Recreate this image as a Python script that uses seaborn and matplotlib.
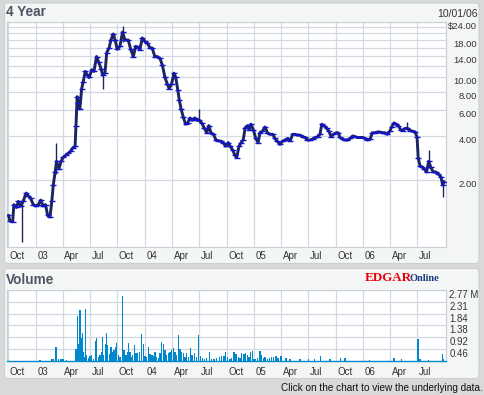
import numpy as np
import pandas as pd
import matplotlib
matplotlib.use("Agg")
import matplotlib.pyplot as plt
import matplotlib.transforms as mtrans
from matplotlib.patches import FancyBboxPatch
import seaborn as sns

# ---------------- data ----------------
start_date = "2002-10-01"
price_day = [0,5,14,18,27,33,41,49,59,66,74,83,92,100,108,116,124,131,139,145,150,156,161,169,176,183,191,200,208,215,223,226,230,234,239,245,250,257,264,270,279,286,295,302,310,315,323,329,337,343,351,357,364,373,382,390,401,409,418,426,435,440,448,457,465,474,481,490,498,507,515,524,532,538,546,554,560,567,572,578,585,593,600,608,615,624,632,639,647,656,664,671,678,686,695,703,712,719,727,736,742,751,758,764,772,779,786,792,800,806,812,820,828,836,842,850,859,867,876,885,892,900,909,918,926,935,943,952,959,968,976,985,993,1001,1010,1019,1027,1035,1043,1049,1056,1066,1073,1080,1088,1097,1104,1110,1119,1127,1135,1144,1153,1160,1169,1177,1185,1194,1202,1211,1218,1227,1235,1244,1253,1261,1268,1277,1283,1291,1298,1305,1313,1320,1328,1336,1345,1354,1361,1368,1372,1378,1386,1392,1400,1407,1414,1422,1431,1439,1448,1454,1459]
price = [1.15,1.05,1.04,1.36,1.30,1.43,1.33,1.43,1.63,1.56,1.50,1.36,1.33,1.36,1.46,1.33,1.36,1.15,1.12,1.43,1.85,2.27,2.68,2.38,2.68,2.85,2.94,3.05,3.14,3.30,3.39,4.70,7.40,6.70,6.10,8.40,9.30,11.0,10.4,10.0,11.3,11.0,13.9,12.7,11.5,10.4,10.7,14.8,15.9,18.0,19.8,18.0,15.6,16.3,20.4,18.0,18.0,15.6,13.9,16.3,16.0,15.5,18.6,17.6,17.1,15.9,15.9,13.9,13.9,13.5,12.2,10.0,9.0,8.4,9.0,10.7,10.0,8.2,7.0,6.1,5.4,4.8,4.9,5.3,5.1,5.3,5.1,5.1,4.9,4.5,4.2,4.7,4.2,4.1,3.75,3.7,3.68,3.6,3.4,3.6,3.4,3.2,2.95,2.84,3.4,3.6,3.75,4.5,4.7,4.4,4.8,4.4,3.84,3.6,4.2,4.3,4.6,4.2,4.1,4.1,3.84,3.68,3.5,3.68,3.75,3.84,3.7,4.1,4.1,4.05,4.05,3.95,3.9,3.75,3.75,3.8,3.9,3.95,4.1,4.8,4.7,4.5,4.3,3.95,4.1,4.2,4.2,3.9,3.8,3.75,3.75,3.84,4.0,3.95,3.9,3.9,3.9,3.84,3.75,3.8,4.2,4.2,4.25,4.25,4.2,4.2,4.1,4.3,4.6,4.9,4.8,4.7,4.4,4.35,4.5,4.5,4.35,4.3,4.25,3.95,2.81,2.5,2.45,2.38,2.27,2.68,2.45,2.27,2.27,2.2,2.1,1.85,1.95]

wick_day = [44, 159, 315, 382, 639, 1336, 1407, 1454]
wick_low = [0.76, 2.2, 8.4, 17.5, 5.0, 4.4, 2.4, 1.54]
wick_high = [1.40, 3.6, 10.6, 22.3, 6.1, 5.0, 3.2, 2.0]

vol_day = [105,146,151,157,161,167,176,182,194,226,230,234,237,240,244,247,250,254,258,262,267,273,279,284,291,295,301,306,311,314,317,324,329,332,338,343,348,353,359,362,368,373,381,387,393,398,401,407,410,416,421,427,433,438,446,451,457,463,468,474,480,485,491,496,502,507,513,518,524,530,535,541,546,552,558,563,569,574,580,585,591,597,602,610,615,622,630,637,644,649,656,664,672,680,688,697,706,714,722,727,734,742,747,755,762,770,775,781,789,794,800,805,811,816,822,828,833,842,848,853,859,867,873,881,887,896,903,912,929,943,976,1004,1024,1045,1077,1112,1127,1208,1291,1317,1369,1374,1378,1406,1453,1456]
volume = [0.04,0.08,0.08,0.55,0.55,0.10,0.08,0.08,0.05,0.47,1.75,0.66,1.99,1.99,0.89,1.11,0.35,0.17,2.03,0.23,0.13,0.20,0.25,0.08,0.78,0.91,0.17,0.23,0.37,0.93,0.25,0.68,1.08,0.62,0.27,0.56,0.37,0.43,0.56,0.71,0.23,0.17,2.53,0.43,0.23,0.35,0.71,0.35,0.17,0.23,0.64,0.30,0.30,0.35,1.05,0.68,0.19,0.17,0.56,0.27,0.23,0.19,0.35,0.17,0.13,0.30,0.73,0.68,0.43,0.23,0.30,0.35,0.43,0.50,0.35,0.23,1.00,0.47,0.35,0.30,0.17,0.30,0.17,0.53,0.23,0.30,0.17,1.02,0.19,0.13,0.08,0.13,0.34,0.08,0.10,0.13,0.17,0.20,0.19,0.35,0.17,0.10,0.13,0.37,0.28,0.15,0.13,0.30,0.27,0.30,0.23,0.17,0.34,0.40,0.08,0.10,0.13,0.40,0.23,0.13,0.17,0.10,0.13,0.17,0.15,0.20,0.13,0.20,0.13,0.10,0.10,0.08,0.08,0.20,0.08,0.13,0.13,0.04,0.13,0.08,0.86,0.86,0.08,0.04,0.28,0.08]

tick_dates = ["2002-10-01","2003-01-01","2003-04-01","2003-07-01","2003-10-01","2004-01-01",
              "2004-04-01","2004-07-01","2004-10-01","2005-01-01","2005-04-01","2005-07-01",
              "2005-10-01","2006-01-01","2006-04-01","2006-07-01"]
tick_labels = ["Oct","03","Apr","Jul","Oct","04","Apr","Jul","Oct","05","Apr","Jul","Oct","06","Apr","Jul"]

price_ticks = [2,4,6,8,10,12,14,16,18,20,22,24]
price_tick_labels = ["2.00","4.00","6.00","8.00","10.00","","14.00","","18.00","","","$24.00"]
vol_ticks = [0.4617,0.9233,1.385,1.8467,2.3083,2.77]
vol_tick_labels = ["0.46","0.92","1.38","1.84","2.31","2.77 M"]

title = "4 Year"
date_label = "10/01/06"
footer = "Click on the chart to view the underlying data."

# ---------------- styling ----------------
sns.set_style("white")
plt.rcParams["font.family"] = ["Liberation Sans", "DejaVu Sans"]

W, H, DPI = 484, 395, 100
fig = plt.figure(figsize=(W / DPI, H / DPI), dpi=DPI)
fig.patch.set_facecolor("#d9d9d9")

def fx(px):
    return px / W

def fy(py):
    return 1 - py / H

# panels
for (x0, y0, x1, y1) in [(4.5, 3, 479, 263.5), (4.5, 268.5, 479, 378.5)]:
    p = FancyBboxPatch((fx(x0), fy(y1)), fx(x1) - fx(x0), fy(y0) - fy(y1),
                       boxstyle="round,pad=0,rounding_size=0.008",
                       transform=fig.transFigure, facecolor="#f3f6f5",
                       edgecolor="#c9d0d6", linewidth=0.8, zorder=-10)
    fig.patches.append(p)

grid_c = "#d3d9e1"
spine_c = "#c9cfd7"
navy = "#1c2463"
blue = "#1212d0"
vol_c = "#0088cc"

base = pd.Timestamp(start_date)
pdates = base + pd.to_timedelta(price_day, unit="D")
vdates = base + pd.to_timedelta(vol_day, unit="D")
wdates = base + pd.to_timedelta(wick_day, unit="D")
tdates = pd.to_datetime(tick_dates)
xmin, xmax = pd.Timestamp("2002-09-27"), pd.Timestamp("2006-10-05")

df_p = pd.DataFrame({"date": pdates, "price": price})

# ---- price axes ----
ax1 = fig.add_axes([fx(7.3), fy(247.3), fx(446) - fx(7.3), fy(21.7) - fy(247.3)])
ax1.set_zorder(2)
ax1.set_facecolor("white")
ax1.set_yscale("log")
sns.lineplot(data=df_p, x="date", y="price", ax=ax1, color=navy, linewidth=2.1, zorder=3)
ax1.vlines(wdates, wick_low, wick_high, color=navy, linewidth=1.0, zorder=3)
sns.scatterplot(data=df_p, x="date", y="price", ax=ax1, color=blue, marker="_",
                s=14, linewidth=1.0, zorder=4, legend=False)
ax1.set_ylim(0.696, 24)
ax1.set_xlim(xmin, xmax)
ax1.set_yticks(price_ticks)
ax1.set_yticklabels(price_tick_labels)
ax1.yaxis.set_minor_locator(matplotlib.ticker.NullLocator())
ax1.set_xticks(tdates)
ax1.set_xticklabels(tick_labels)
ax1.set_xlabel("")
ax1.set_ylabel("")
ax1.yaxis.tick_right()
ax1.tick_params(axis="y", length=0, pad=22.3, labelsize=6.8, labelcolor="#333333")
ax1.tick_params(axis="x", length=0, pad=3.0, labelsize=7, labelcolor="#333333")
ax1.grid(True, color=grid_c, linewidth=0.9)
ax1.set_axisbelow(True)
for s in ax1.spines.values():
    s.set_color(spine_c)
    s.set_linewidth(0.8)

# ---- volume axes ----
ax2 = fig.add_axes([fx(7.3), fy(361.2), fx(446) - fx(7.3), fy(289.7) - fy(361.2)])
ax2.set_zorder(2)
ax2.set_facecolor("white")
ax2.bar(vdates, volume, width=4.5, color=vol_c, linewidth=0, zorder=3)
ax2.set_ylim(0, 2.77)
ax2.set_xlim(xmin, xmax)
ax2.set_yticks(vol_ticks)
ax2.set_yticklabels(vol_tick_labels)
ax2.set_xticks(tdates)
ax2.set_xticklabels(tick_labels)
ax2.yaxis.tick_right()
ax2.tick_params(axis="y", length=0, pad=2.5, labelsize=6.9, labelcolor="#333333")
ax2.tick_params(axis="x", length=0, pad=4.0, labelsize=7, labelcolor="#333333")
ax2.grid(True, color=grid_c, linewidth=0.9)
ax2.set_axisbelow(True)
for s in ax2.spines.values():
    s.set_color(spine_c)
    s.set_linewidth(0.8)
ax2.spines["bottom"].set_color(vol_c)
ax2.spines["bottom"].set_linewidth(1.0)

# label alignment
shift = mtrans.ScaledTranslation(1.5 / DPI, 0, fig.dpi_scale_trans)
for ax in (ax1, ax2):
    for lab in ax.get_xticklabels():
        lab.set_ha("left")
        lab.set_va("top")
        lab.set_transform(lab.get_transform() + shift)
for lab in ax1.get_yticklabels():
    lab.set_ha("right")
    lab.set_va("top")
for lab in ax2.get_yticklabels():
    lab.set_ha("left")
    lab.set_va("top")

# ---- texts ----
fig.text(fx(5.5), fy(12.5), title, fontsize=9.8, fontweight="bold", color="#4f5563",
         ha="left", va="center")
fig.text(fx(477.5), fy(14), date_label, fontsize=7.6, color="#333333", ha="right", va="center")
fig.text(fx(5.5), fy(280), "Volume", fontsize=9.8, fontweight="bold", color="#4f5563",
         ha="left", va="center")
fig.text(fx(365), fy(281), "EDGAR", fontsize=9.4, fontweight="bold", color="#e8000b",
         family=["Liberation Serif", "DejaVu Serif"], ha="left", va="baseline")
fig.text(fx(409.5), fy(281), "Online", fontsize=7.4, fontweight="bold", color="#1a3a7a",
         family=["Liberation Serif", "DejaVu Serif"], ha="left", va="baseline")
fig.text(fx(482.5), fy(388), footer, fontsize=7.2, color="#111111", ha="right", va="center")

fig.savefig("out.png", dpi=DPI, facecolor=fig.get_facecolor())
